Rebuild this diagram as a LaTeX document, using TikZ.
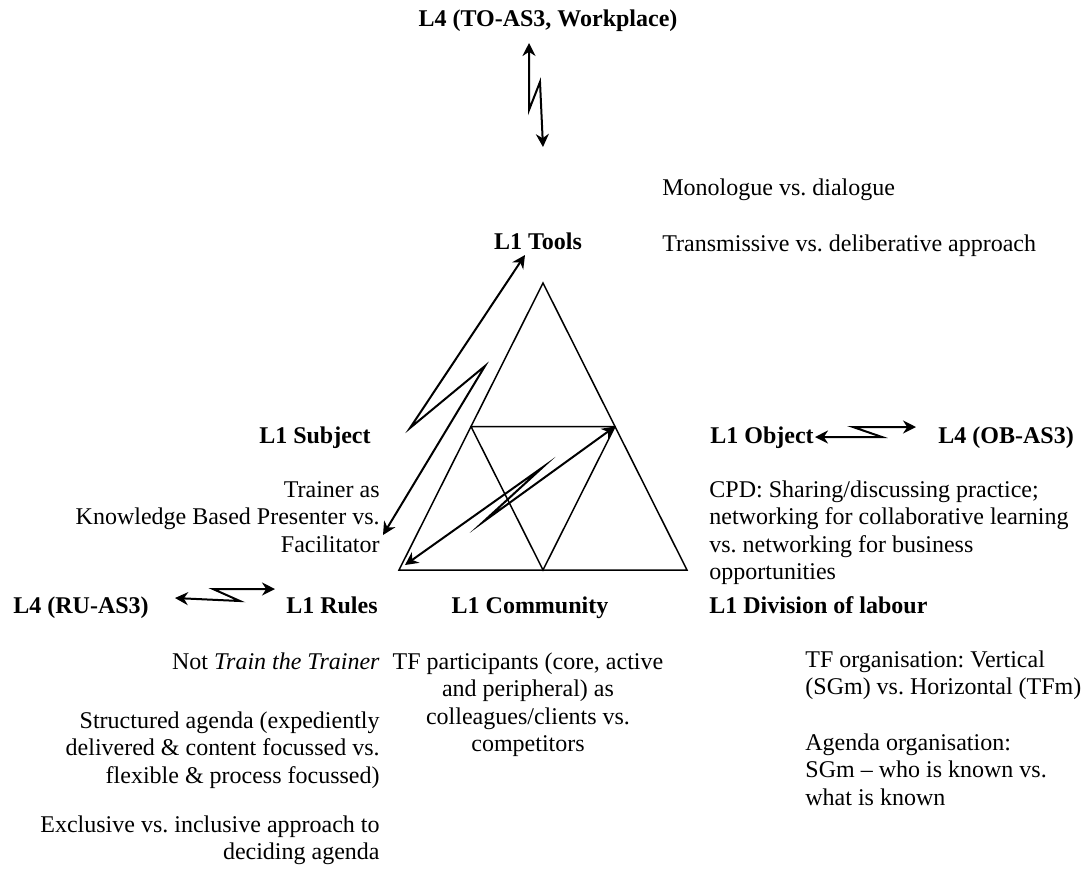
\documentclass[tikz,border=0pt]{standalone}
\usepackage{fontspec}
\setmainfont{Liberation Serif}
\usetikzlibrary{arrows.meta}
% multi-line blocks whose baseline is that of their first line
\newcommand\blkR[2]{\parbox[t]{#1}{\raggedleft #2}}
\newcommand\blkL[2]{\parbox[t]{#1}{\raggedright #2}}
\newcommand\blkC[2]{\parbox[t]{#1}{\centering #2}}
\begin{document}
\begin{tikzpicture}[x=0.5pt,y=-0.5pt,
  lbl/.style={inner sep=0pt, font=\fontsize{12}{13.8}\selectfont\bfseries\frenchspacing},
  txt/.style={inner sep=0pt, font=\fontsize{12}{13.8}\selectfont\frenchspacing},
  tri/.style={line width=0.75pt, line join=miter},
  zz/.style={line width=1pt, miter limit=25,
    {Stealth[length=6.5pt,width=6.5pt]}-{Stealth[length=6.5pt,width=6.5pt]}}]
\useasboundingbox (0,0) rectangle (1091,869);

% activity triangle and its inner (medial) triangle
\coordinate (apex) at (543,283);
\coordinate (bl) at (399,570);
\coordinate (br) at (687,570);
\coordinate (ml) at (471,426.5);
\coordinate (mr) at (615,426.5);
\coordinate (mb) at (543,570);
\draw[tri] (apex) -- (br) -- (bl) -- cycle;
\draw[tri] (ml) -- (mr) -- (mb) -- cycle;

% headings
\node[lbl, anchor=base] (top) at (548,26) {L4 (TO-AS3, Workplace)};
\node[lbl, anchor=base] (tools) at (538,249) {L1 Tools};
\node[lbl, anchor=base east] (subject) at (371,443) {L1 Subject};
\node[lbl, anchor=base west] (object) at (710,443) {L1 Object};
\node[lbl, anchor=base west] (obas) at (938,443) {L4 (OB-AS3)};
\node[lbl, anchor=base west] (ruas) at (13,613) {L4 (RU-AS3)};
\node[lbl, anchor=base east] (rules) at (378,613) {L1 Rules};
\node[lbl, anchor=base] (community) at (530,613) {L1 Community};
\node[lbl, anchor=base west] (division) at (709,613) {L1 Division of labour};

% descriptions
\node[txt, anchor=base west] (mono) at (662,195) {Monologue vs. dialogue};
\node[txt, anchor=base west] (trans) at (662,251) {Transmissive vs. deliberative approach};
\node[txt, anchor=base east] (trainer) at (380,497)
  {\blkR{180pt}{Trainer as\\Knowledge Based Presenter vs.\\Facilitator}};
\node[txt, anchor=base west] (cpd) at (709,497)
  {\blkL{190pt}{CPD: Sharing/discussing practice;\\networking for collaborative learning\\vs. networking for business\\opportunities}};
\node[txt, anchor=base east] (ttt) at (380,669) {Not \textit{Train the Trainer}};
\node[txt, anchor=base east] (agenda) at (380,728)
  {\blkR{180pt}{Structured agenda (expediently\\delivered \& content focussed vs.\\flexible \& process focussed)}};
\node[txt, anchor=base east] (excl) at (380,832)
  {\blkR{180pt}{Exclusive vs. inclusive approach to\\deciding agenda}};
\node[txt, anchor=base] (tfp) at (528,669)
  {\blkC{150pt}{TF participants (core, active\\and peripheral) as\\colleagues/clients vs.\\competitors}};
\node[txt, anchor=base west] (tforg) at (805,667)
  {\blkL{140pt}{TF organisation: Vertical\\(SGm) vs. Horizontal (TFm)}};
\node[txt, anchor=base west] (agorg) at (805,750)
  {\blkL{140pt}{Agenda organisation:\\SGm – who is known vs.\\what is known}};

% zigzag (contradiction) arrows
\coordinate (t1) at (529,43);  \coordinate (t2) at (529,110);
\coordinate (t3) at (540,82);  \coordinate (t4) at (543,147);
\draw[zz] (t1) -- (t2) -- (t3) -- (t4);

\coordinate (a1) at (525,255); \coordinate (a2) at (410,428);
\coordinate (a3) at (485,366); \coordinate (a4) at (383,535);
\draw[zz] (a1) -- (a2) -- (a3) -- (a4);

\coordinate (i2) at (483,522); \coordinate (i3) at (543,467);
\coordinate (i4) at (405,565);
\draw[zz] (mr) -- (i2) -- (i3) -- (i4);

\coordinate (o1) at (815,437); \coordinate (o2) at (882,437);
\coordinate (o3) at (853,427); \coordinate (o4) at (916,427);
\draw[zz] (o1) -- (o2) -- (o3) -- (o4);

\coordinate (r1) at (175,598); \coordinate (r2) at (240,601);
\coordinate (r3) at (213,589); \coordinate (r4) at (275,589);
\draw[zz] (r1) -- (r2) -- (r3) -- (r4);
\end{tikzpicture}
\end{document}
